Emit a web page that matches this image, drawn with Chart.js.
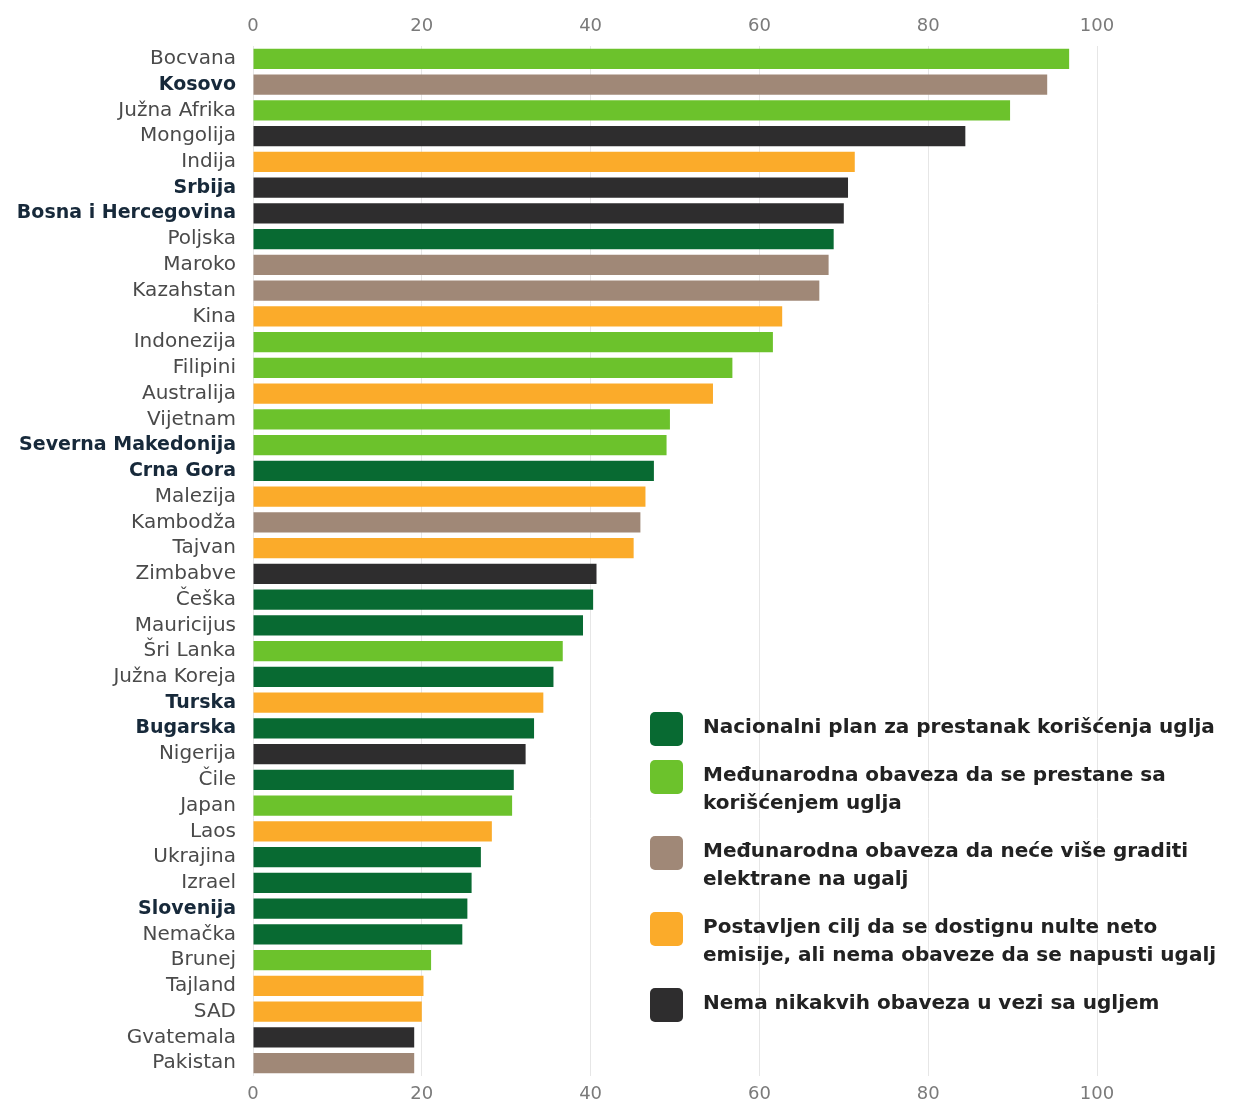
<!DOCTYPE html>
<html>
<head>
<meta charset="utf-8">
<script src="https://cdn.jsdelivr.net/npm/chart.js@4.4.0/dist/chart.umd.min.js"></script>
<style>
  html, body { margin: 0; padding: 0; background: #fff; }
  #wrap { position: relative; width: 1241px; height: 1103px; }
  #legend { position: absolute; left: 650px; top: 712px; font-family: "DejaVu Sans", sans-serif; font-size: 20px; font-weight: 600; color: #222; }
  .item { position: relative; padding-left: 53px; line-height: 28px; margin-bottom: 20px; white-space: nowrap; }
  .item span.sw { position: absolute; left: 0; top: 0px; width: 33px; height: 34px; border-radius: 5px; }
</style>
</head>
<body>
<div id="wrap">
  <canvas id="chart" width="1241" height="1103"></canvas>
  <div id="legend"></div>
</div>
<script>
// countries, sorted as in the picture
var countries = ['Bocvana', 'Kosovo', 'Južna Afrika', 'Mongolija', 'Indija', 'Srbija', 'Bosna i Hercegovina',
  'Poljska', 'Maroko', 'Kazahstan', 'Kina', 'Indonezija', 'Filipini', 'Australija', 'Vijetnam',
  'Severna Makedonija', 'Crna Gora', 'Malezija', 'Kambodža', 'Tajvan', 'Zimbabve', 'Češka', 'Mauricijus',
  'Šri Lanka', 'Južna Koreja', 'Turska', 'Bugarska', 'Nigerija', 'Čile', 'Japan', 'Laos', 'Ukrajina',
  'Izrael', 'Slovenija', 'Nemačka', 'Brunej', 'Tajland', 'SAD', 'Gvatemala', 'Pakistan'];

var values = [96.7, 94.1, 89.7, 84.4, 71.3, 70.5, 70.0, 68.8, 68.2, 67.1, 62.7, 61.6, 56.8, 54.5, 49.4,
  49.0, 47.5, 46.5, 45.9, 45.1, 40.7, 40.3, 39.1, 36.7, 35.6, 34.4, 33.3, 32.3, 30.9, 30.7, 28.3, 27.0,
  25.9, 25.4, 24.8, 21.1, 20.2, 20.0, 19.1, 19.1];

// which commitment group each country belongs to (index into groups)
var groupOf = [1, 2, 1, 4, 3, 4, 4, 0, 2, 2, 3, 1, 1, 3, 1, 1, 0, 3, 2, 3, 4, 0, 0, 1, 0, 3, 0, 4, 0, 1,
  3, 0, 0, 0, 0, 1, 3, 3, 4, 2];

var groups = [
  'Nacionalni plan za prestanak korišćenja uglja',
  'Međunarodna obaveza da se prestane sa<br>korišćenjem uglja',
  'Međunarodna obaveza da neće više graditi<br>elektrane na ugalj',
  'Postavljen cilj da se dostignu nulte neto<br>emisije, ali nema obaveze da se napusti ugalj',
  'Nema nikakvih obaveza u vezi sa ugljem'
];
var groupColors = ['#086a32', '#6cc22c', '#a08877', '#fbab2a', '#2e2d2e'];

// Western Balkans countries shown in bold
var highlighted = ['Kosovo', 'Srbija', 'Bosna i Hercegovina', 'Severna Makedonija', 'Crna Gora',
  'Turska', 'Bugarska', 'Slovenija'];

var xTicks = [0, 20, 40, 60, 80, 100];

var barColors = groupOf.map(function(g) { return groupColors[g]; });

// legend as html on top of the canvas
var legendHtml = '';
groups.forEach(function(txt, i) {
  legendHtml += '<div class="item"><span class="sw" style="background:' + groupColors[i] + '"></span>' + txt + '</div>';
});
document.getElementById('legend').innerHTML = legendHtml;

var font = 'DejaVu Sans';

new Chart(document.getElementById('chart'), {
  type: 'bar',
  data: {
    labels: countries,
    datasets: [{
      data: values,
      backgroundColor: barColors,
      barPercentage: 1,
      categoryPercentage: 0.78
    }]
  },
  options: {
    responsive: false,
    animation: false,
    indexAxis: 'y',
    layout: { padding: { left: 0, right: 144, top: 0, bottom: 0 } },
    plugins: { legend: { display: false }, tooltip: { enabled: false } },
    scales: {
      x: {
        position: 'top',
        min: 0, max: 100,
        afterBuildTicks: function(s) { s.ticks = xTicks.map(function(v) { return { value: v }; }); },
        afterFit: function(s) { s.height = 46; },
        grid: { color: '#e6e6e6', drawTicks: false },
        border: { display: false },
        ticks: { color: '#7a7a7a', font: { family: font, size: 18 }, padding: 9 }
      },
      x2: {
        type: 'linear',
        axis: 'x',
        position: 'bottom',
        min: 0, max: 100,
        afterBuildTicks: function(s) { s.ticks = xTicks.map(function(v) { return { value: v }; }); },
        afterFit: function(s) { s.height = 27; },
        grid: { display: false },
        border: { display: false },
        ticks: { color: '#7a7a7a', font: { family: font, size: 18 }, padding: 0 }
      },
      y: {
        afterFit: function(s) { s.width = 253; },
        grid: { display: false },
        border: { display: false },
        ticks: {
          padding: 9,
          autoSkip: false,
          color: function(ctx) {
            return highlighted.indexOf(countries[ctx.index]) >= 0 ? '#17293a' : '#4a4a4a';
          },
          font: function(ctx) {
            var b = highlighted.indexOf(countries[ctx.index]) >= 0;
            return { family: font, size: b ? 19 : 20, weight: b ? 'bold' : 'normal' };
          }
        }
      }
    }
  }
});
</script>
</body>
</html>
